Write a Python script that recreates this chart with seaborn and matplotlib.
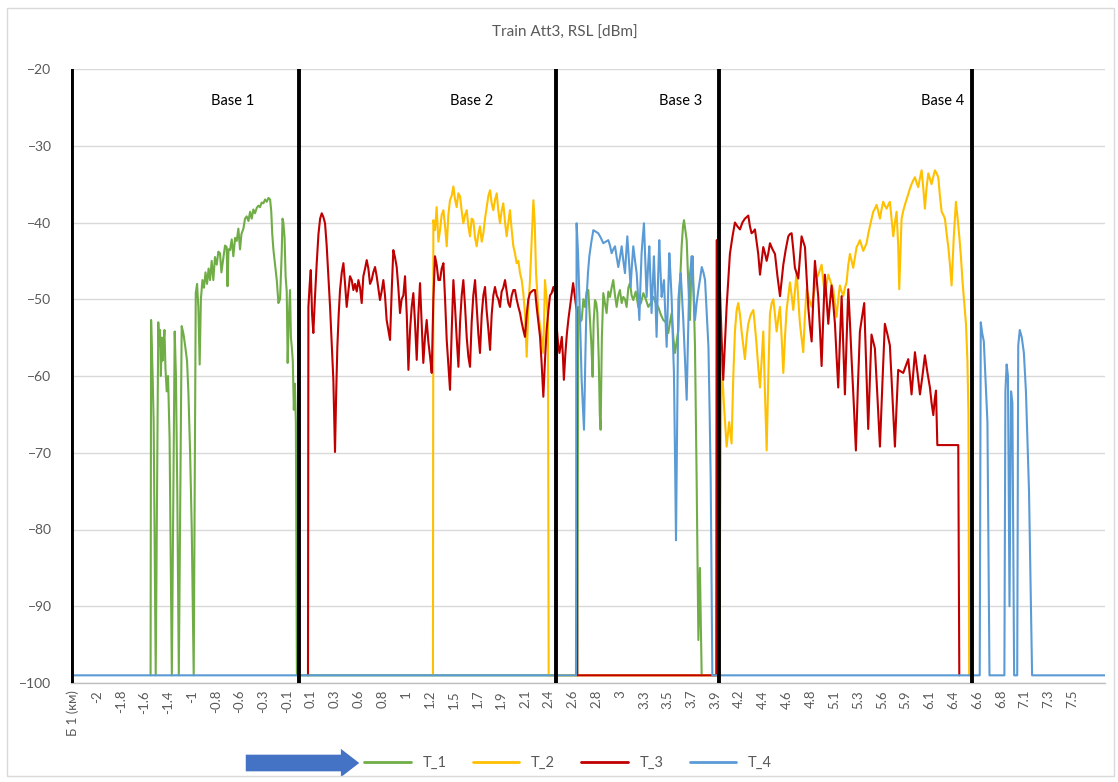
import numpy as np
import pandas as pd
import matplotlib
matplotlib.use("Agg")
import matplotlib.pyplot as plt
from matplotlib.patches import Rectangle, FancyArrowPatch
import seaborn as sns

# x tick labels (category labels of the original sheet)
tick_labels = ["Б 1 (км)", "-2", "-1.8", "-1.6", "-1.4", "-1", "-0.8", "-0.6", "-0.3", "-0.1",
               "0.1", "0.3", "0.6", "0.8", "1", "1.2", "1.5", "1.7", "1.9", "2.1", "2.4",
               "2.6", "2.8", "3", "3.3", "3.5", "3.7", "3.9", "4.2", "4.4", "4.6", "4.8",
               "5.1", "5.3", "5.6", "5.9", "6.1", "6.4", "6.6", "6.8", "7.1", "7.3", "7.5"]

# base station boundaries (km)
base_edges = [-2.24, -0.03, 2.47, 4.06, 6.52]
base_names = ["Base 1", "Base 2", "Base 3", "Base 4"]

# RSL readings (km, dBm), -99 = no signal
t1 = [(-1.475, -99), (-1.470, -52.7), (-1.455, -60), (-1.445, -66), (-1.425, -99),
      (-1.400, -53), (-1.392, -56), (-1.383, -54), (-1.375, -60), (-1.366, -55), (-1.358, -58),
      (-1.350, -56), (-1.340, -54), (-1.330, -59), (-1.318, -62), (-1.305, -60), (-1.290, -68),
      (-1.268, -99), (-1.240, -54.2), (-1.228, -60), (-1.215, -75), (-1.200, -99), (-1.172, -53.5),
      (-1.155, -54.5), (-1.139, -56), (-1.120, -58), (-1.107, -62), (-1.090, -70), (-1.074, -80),
      (-1.055, -99), (-1.035, -49.2), (-1.022, -48), (-1.010, -51), (-0.997, -58.5), (-0.985, -50),
      (-0.970, -47.5), (-0.955, -48.5), (-0.940, -46.5), (-0.925, -48), (-0.910, -46), (-0.896, -47.5),
      (-0.880, -45), (-0.864, -47.5), (-0.848, -44.5), (-0.831, -45.5), (-0.815, -43.8), (-0.799, -44),
      (-0.785, -46.5), (-0.766, -44.6), (-0.750, -43), (-0.734, -43.2), (-0.726, -48.3), (-0.716, -43.5),
      (-0.701, -43.6), (-0.685, -42.2), (-0.669, -44.4), (-0.652, -42), (-0.636, -42.4), (-0.620, -40.8),
      (-0.604, -43.5), (-0.590, -41.5), (-0.571, -40.8), (-0.555, -39.5), (-0.539, -39.2), (-0.522, -39.8),
      (-0.506, -38.6), (-0.490, -39.5), (-0.474, -38.3), (-0.458, -38.8), (-0.441, -38.1), (-0.425, -37.8),
      (-0.409, -38.0), (-0.393, -37.4), (-0.376, -37.5), (-0.360, -37.0), (-0.344, -37.3), (-0.327, -36.8),
      (-0.311, -37.0), (-0.300, -38.5), (-0.290, -41.5), (-0.279, -43.5), (-0.263, -45.5), (-0.246, -47.5),
      (-0.230, -50.5), (-0.214, -50), (-0.198, -44), (-0.190, -39.5), (-0.182, -40), (-0.170, -42),
      (-0.160, -47), (-0.149, -49), (-0.140, -58.3), (-0.130, -53), (-0.117, -48.8), (-0.108, -55),
      (-0.100, -56.2), (-0.090, -58), (-0.080, -64.4), (-0.070, -61), (-0.060, -66), (-0.050, -99),
      (2.681, -99), (2.690, -51), (2.705, -53), (2.723, -52.7), (2.740, -50), (2.755, -51), (2.772, -49),
      (2.788, -48.8), (2.804, -52.7), (2.818, -56), (2.830, -60.1), (2.840, -53), (2.853, -50.1),
      (2.865, -50.5), (2.876, -51.8), (2.890, -58), (2.900, -65), (2.908, -67), (2.920, -55),
      (2.934, -49.2), (2.950, -50.5), (2.966, -51.8), (2.983, -49), (2.999, -49.7), (3.015, -48.5),
      (3.031, -47.5), (3.048, -49.5), (3.064, -51), (3.080, -49.5), (3.096, -48.8), (3.113, -50.5),
      (3.129, -49.7), (3.145, -50), (3.161, -51), (3.178, -48.5), (3.194, -47.9), (3.210, -49.5),
      (3.226, -50.1), (3.250, -49), (3.275, -51), (3.300, -50.5), (3.324, -49.2), (3.348, -50),
      (3.372, -51), (3.396, -50.5), (3.421, -49.7), (3.445, -50.5), (3.469, -51), (3.494, -52),
      (3.518, -52.7), (3.543, -53), (3.567, -54.4), (3.583, -53), (3.600, -51.8), (3.616, -55),
      (3.632, -57), (3.648, -55.5), (3.665, -54), (3.681, -48), (3.697, -43.1), (3.710, -40.5),
      (3.720, -39.7), (3.733, -41), (3.746, -42.3), (3.762, -48), (3.778, -52.7), (3.790, -47),
      (3.804, -44.4), (3.815, -50), (3.827, -56.2), (3.843, -73.5), (3.860, -94.4), (3.875, -85),
      (3.892, -99)]

t2 = [(1.275, -99), (1.279, -39.7), (1.295, -41), (1.311, -38), (1.328, -42.5),
      (1.344, -41), (1.360, -39), (1.377, -38.4), (1.393, -40.5), (1.409, -43.1), (1.425, -39),
      (1.441, -37.1), (1.458, -36.5), (1.474, -35.3), (1.490, -37), (1.506, -38), (1.522, -36.2),
      (1.539, -36.6), (1.555, -38.5), (1.571, -40.1), (1.588, -39), (1.604, -38.4), (1.620, -40.5),
      (1.636, -41.8), (1.652, -39.5), (1.668, -39.7), (1.685, -42), (1.701, -43.1), (1.717, -41.5),
      (1.733, -40.5), (1.750, -42.5), (1.766, -41.4), (1.782, -39.5), (1.798, -38), (1.815, -36.5),
      (1.831, -35.8), (1.847, -37.5), (1.863, -38.4), (1.880, -37), (1.896, -36.2), (1.912, -38.5),
      (1.928, -40.1), (1.944, -38.5), (1.960, -37.5), (1.977, -40), (1.993, -41.8), (2.009, -40),
      (2.025, -38.4), (2.042, -41), (2.058, -43.1), (2.074, -44), (2.090, -45.3), (2.107, -45),
      (2.123, -46.6), (2.139, -47.5), (2.155, -49.2), (2.172, -52), (2.188, -57.5), (2.204, -51),
      (2.220, -47.5), (2.237, -42), (2.253, -37.1), (2.266, -40), (2.279, -46.6), (2.290, -49),
      (2.301, -51.8), (2.318, -53.5), (2.334, -55.3), (2.350, -57), (2.366, -47.5), (2.382, -50),
      (2.395, -52.7), (2.402, -99),
      (4.060, -99), (4.086, -57.8), (4.110, -64), (4.135, -69.2), (4.160, -66), (4.183, -68.8),
      (4.200, -60), (4.216, -54.2), (4.232, -51.5), (4.248, -50.5), (4.265, -52), (4.281, -54.2),
      (4.297, -56), (4.313, -57.8), (4.330, -55), (4.346, -53.2), (4.370, -52), (4.395, -51.4),
      (4.411, -53.5), (4.427, -56), (4.444, -59), (4.460, -61.5), (4.476, -58), (4.492, -54.2),
      (4.508, -62), (4.525, -69.7), (4.541, -60), (4.557, -51.9), (4.574, -50.5), (4.590, -50),
      (4.606, -52), (4.622, -54.2), (4.638, -52.5), (4.655, -51), (4.671, -55), (4.687, -59.6),
      (4.703, -55), (4.719, -51.4), (4.736, -49.5), (4.752, -47.8), (4.768, -49.5), (4.784, -51.4),
      (4.800, -49), (4.817, -46.4), (4.833, -50), (4.849, -53.2), (4.865, -55), (4.881, -56.9),
      (4.898, -52), (4.914, -48.7), (4.938, -50), (4.963, -51), (4.987, -49), (5.011, -47.3),
      (5.036, -46.5), (5.060, -45.5), (5.076, -47.5), (5.092, -49.6), (5.108, -48), (5.125, -46.8),
      (5.149, -47.8), (5.173, -48.7), (5.190, -50.5), (5.206, -52.3), (5.222, -50), (5.238, -48.2),
      (5.255, -49), (5.271, -49.6), (5.287, -48.5), (5.303, -47.8), (5.320, -45.5), (5.336, -44.1),
      (5.352, -45), (5.368, -45.9), (5.385, -44.5), (5.401, -43.2), (5.417, -42.8), (5.433, -42.3),
      (5.450, -43), (5.466, -43.7), (5.482, -43.2), (5.498, -42.7), (5.514, -41.5), (5.530, -40.5),
      (5.547, -39.5), (5.563, -38.6), (5.579, -38.2), (5.595, -37.7), (5.611, -38.5), (5.628, -39.5),
      (5.644, -38.3), (5.660, -37.3), (5.676, -37.8), (5.693, -38.2), (5.709, -37.7), (5.725, -37.3),
      (5.741, -39.5), (5.758, -41.8), (5.774, -40), (5.790, -38.6), (5.806, -43), (5.816, -48.7),
      (5.828, -44), (5.839, -39.5), (5.855, -38.5), (5.871, -37.7), (5.888, -37), (5.904, -36.3),
      (5.920, -35.6), (5.936, -35), (5.953, -34.5), (5.969, -34.1), (5.985, -34.8), (6.001, -35.4),
      (6.018, -34.2), (6.034, -33.2), (6.050, -35.5), (6.066, -38.2), (6.082, -35.5), (6.099, -33.6),
      (6.115, -34.3), (6.131, -35), (6.148, -34), (6.164, -33.2), (6.180, -33.6), (6.196, -34.1),
      (6.212, -36.5), (6.229, -38.6), (6.245, -39), (6.261, -39.5), (6.278, -41.5), (6.294, -43.2),
      (6.310, -45.5), (6.326, -48.2), (6.347, -42), (6.368, -37.3), (6.385, -39.5), (6.401, -41.8),
      (6.417, -44.5), (6.433, -47.8), (6.450, -50.5), (6.466, -53.2), (6.480, -58), (6.490, -65),
      (6.497, -99)]

t3 = [(0.058, -99), (0.062, -51), (0.075, -48), (0.085, -46.2), (0.098, -52),
      (0.110, -54.4), (0.125, -50), (0.143, -45.3), (0.160, -41.5), (0.176, -39.5), (0.192, -38.8),
      (0.208, -39.3), (0.224, -40.1), (0.240, -43), (0.257, -47), (0.273, -51), (0.290, -56),
      (0.305, -60.5), (0.321, -69.9), (0.333, -62), (0.344, -56.2), (0.357, -52), (0.370, -48.8),
      (0.387, -46.5), (0.403, -45.3), (0.419, -48), (0.435, -51), (0.451, -49), (0.467, -47),
      (0.484, -47.5), (0.500, -48.8), (0.516, -48), (0.533, -49), (0.549, -47.5), (0.565, -48.5),
      (0.581, -50.5), (0.597, -47), (0.614, -46), (0.630, -44.9), (0.646, -46), (0.662, -48),
      (0.678, -47.5), (0.694, -46.5), (0.711, -45.8), (0.727, -47), (0.743, -48.5), (0.759, -50.1),
      (0.775, -49), (0.792, -47.5), (0.808, -49.5), (0.824, -52.7), (0.840, -54), (0.857, -55.3),
      (0.873, -49), (0.889, -43.6), (0.905, -44.5), (0.922, -45.8), (0.938, -48.5), (0.954, -51.8),
      (0.970, -50), (0.987, -49.5), (1.003, -47), (1.020, -52), (1.036, -59.2), (1.052, -54),
      (1.068, -51), (1.084, -49.2), (1.100, -53), (1.117, -57.9), (1.133, -52), (1.149, -47.9),
      (1.165, -53), (1.181, -58.3), (1.197, -55), (1.214, -52.7), (1.230, -55.5), (1.247, -57.5),
      (1.263, -59.6), (1.279, -50), (1.295, -44.4), (1.311, -45.5), (1.328, -47.5), (1.344, -47.5),
      (1.360, -46), (1.377, -45.3), (1.393, -50), (1.409, -55.3), (1.425, -58.5), (1.441, -61.8),
      (1.458, -54), (1.474, -47.5), (1.490, -51), (1.506, -55), (1.523, -58.8), (1.539, -53),
      (1.555, -49.5), (1.571, -47.5), (1.588, -51), (1.604, -55), (1.620, -57.5), (1.636, -58.8),
      (1.652, -53), (1.668, -49.5), (1.685, -47.5), (1.701, -51), (1.717, -54.5), (1.733, -57),
      (1.750, -52), (1.766, -49.5), (1.782, -48.4), (1.798, -51.5), (1.815, -54), (1.831, -56.6),
      (1.847, -52), (1.863, -49.5), (1.879, -48.4), (1.896, -49.5), (1.912, -50), (1.928, -51),
      (1.944, -49), (1.960, -48.5), (1.977, -47.5), (1.993, -49), (2.009, -50.5), (2.025, -51),
      (2.042, -49.5), (2.058, -48.8), (2.074, -48.8), (2.090, -50), (2.107, -51), (2.123, -51.8),
      (2.139, -53), (2.155, -54), (2.171, -54.9), (2.188, -52), (2.204, -50), (2.220, -49.2),
      (2.237, -49), (2.253, -48.8), (2.269, -48.8), (2.285, -51), (2.302, -53), (2.318, -54.9),
      (2.334, -58.5), (2.350, -62.7), (2.366, -58), (2.382, -54), (2.399, -51.5), (2.415, -49.5),
      (2.431, -49.2), (2.448, -48.4), (2.464, -49.2), (2.480, -53.6), (2.495, -56), (2.507, -57),
      (2.518, -56), (2.530, -54.9), (2.541, -57.5), (2.550, -60.5), (2.565, -57), (2.580, -54.4),
      (2.595, -52.5), (2.610, -51), (2.625, -49.5), (2.640, -47.9), (2.660, -50), (2.675, -51.5),
      (2.680, -99),
      (4.034, -99), (4.038, -42.3), (4.054, -45.5), (4.070, -48.7), (4.086, -55), (4.102, -60.5),
      (4.118, -56), (4.135, -51), (4.151, -47.5), (4.167, -44.1), (4.190, -42), (4.216, -40),
      (4.240, -40.5), (4.265, -40.9), (4.289, -40), (4.313, -39.5), (4.330, -39.3), (4.346, -39.1),
      (4.362, -40.5), (4.378, -41.4), (4.395, -41.2), (4.411, -40.9), (4.427, -42.5), (4.443, -44.1),
      (4.452, -45.5), (4.460, -46.8), (4.476, -45), (4.492, -43.2), (4.508, -44), (4.525, -45),
      (4.541, -44), (4.557, -42.7), (4.582, -43.5), (4.606, -44.1), (4.630, -47), (4.655, -49.6),
      (4.671, -47.5), (4.687, -45.5), (4.711, -43.5), (4.736, -41.8), (4.752, -41.5), (4.768, -41.4),
      (4.784, -43.5), (4.800, -45.9), (4.817, -46.6), (4.833, -47.3), (4.849, -44.5), (4.865, -41.8),
      (4.881, -42.5), (4.898, -43.2), (4.914, -47), (4.930, -51), (4.946, -53.5), (4.963, -55.5),
      (4.979, -50), (4.995, -45), (5.011, -47.3), (5.027, -49.6), (5.044, -54), (5.060, -58.7),
      (5.076, -52.5), (5.092, -46.8), (5.108, -50), (5.125, -53.2), (5.141, -50.5), (5.157, -48.2),
      (5.173, -50.5), (5.190, -53.2), (5.206, -57.5), (5.222, -61.5), (5.238, -55.5), (5.255, -49.6),
      (5.271, -56), (5.287, -62.4), (5.303, -55.5), (5.320, -48.7), (5.336, -53), (5.352, -57.8),
      (5.373, -63.5), (5.394, -69.7), (5.413, -61.5), (5.433, -54.2), (5.454, -52.3), (5.475, -50.5),
      (5.494, -58.5), (5.514, -66.9), (5.530, -60.5), (5.546, -54.6), (5.563, -55.5), (5.579, -56.4),
      (5.603, -62.5), (5.628, -69.2), (5.652, -61), (5.676, -53.2), (5.700, -54.5), (5.725, -56),
      (5.749, -62.5), (5.774, -69.2), (5.790, -64), (5.806, -59.2), (5.830, -59.4), (5.855, -59.6),
      (5.879, -58.7), (5.904, -57.8), (5.920, -60), (5.936, -62.4), (5.953, -59.5), (5.969, -56.9),
      (5.993, -59.5), (6.018, -62.4), (6.042, -60), (6.066, -57.3), (6.090, -59.5), (6.115, -61.5),
      (6.131, -63.5), (6.148, -65.1), (6.162, -63), (6.174, -61.9), (6.187, -69), (6.391, -69),
      (6.401, -99)]

t4 = [(-2.25, -99), (2.668, -99), (2.674, -40.1), (2.688, -44), (2.701, -49.7), (2.712, -55),
      (2.723, -60.5), (2.735, -64), (2.746, -67), (2.760, -57), (2.772, -49.7), (2.785, -46.5),
      (2.798, -44.4), (2.818, -42.5), (2.837, -41), (2.861, -41.2), (2.885, -41.4), (2.910, -42),
      (2.934, -42.7), (2.958, -42.5), (2.983, -42.3), (2.999, -43), (3.015, -44), (3.031, -43.5),
      (3.048, -43.1), (3.064, -44.5), (3.080, -45.8), (3.097, -44.5), (3.113, -43.1), (3.129, -45),
      (3.145, -46.6), (3.157, -44), (3.168, -41.8), (3.184, -45), (3.200, -48.4), (3.213, -45.5),
      (3.226, -43.1), (3.243, -45), (3.259, -46.6), (3.272, -49.5), (3.285, -52.7), (3.296, -48),
      (3.307, -44), (3.318, -42), (3.330, -40.1), (3.343, -45), (3.356, -49.7), (3.369, -46),
      (3.382, -43.1), (3.393, -47.5), (3.404, -51.8), (3.416, -48), (3.427, -44.4), (3.440, -49.5),
      (3.453, -54.9), (3.466, -48), (3.479, -42.3), (3.490, -46), (3.502, -49.7), (3.514, -48.5),
      (3.525, -47.5), (3.538, -52), (3.551, -56.2), (3.564, -50), (3.577, -44), (3.589, -47),
      (3.600, -50.1), (3.611, -55), (3.622, -59.6), (3.632, -70), (3.642, -81.4), (3.654, -65),
      (3.665, -50.1), (3.677, -48), (3.688, -46.6), (3.700, -49.5), (3.713, -52.7), (3.730, -58),
      (3.746, -63.1), (3.759, -55), (3.772, -47.5), (3.784, -46), (3.795, -44.4), (3.811, -48.5),
      (3.827, -52.7), (3.843, -50.5), (3.860, -48.8), (3.877, -47.3), (3.893, -45.8), (3.909, -46.5),
      (3.925, -47.5), (3.942, -52), (3.958, -56.2), (3.970, -65), (3.980, -73.5), (3.996, -99),
      (6.600, -99), (6.610, -53), (6.625, -54.5), (6.640, -55.5), (6.655, -60), (6.675, -66),
      (6.695, -99), (6.840, -99), (6.850, -62), (6.862, -58.5), (6.875, -60), (6.890, -90),
      (6.905, -62), (6.918, -63.5), (6.935, -99), (6.965, -99), (6.975, -56), (6.990, -54),
      (7.010, -55), (7.030, -57), (7.050, -62), (7.080, -75), (7.110, -99), (7.82, -99)]

series = {"T_1": t1, "T_2": t2, "T_3": t3, "T_4": t4}
colors = {"T_1": "#70AD47", "T_2": "#FFC000", "T_3": "#C00000", "T_4": "#5B9BD5"}

frames = []
for name, pts in series.items():
    d = pd.DataFrame(pts, columns=["km", "dbm"])
    d["series"] = name
    frames.append(d)
df = pd.concat(frames, ignore_index=True)

sns.set_theme(style="white")
plt.rcParams["font.family"] = ["Lato", "DejaVu Sans"]

W, H = 1118, 782
fig = plt.figure(figsize=(W / 100, H / 100), dpi=100)
ax = fig.add_axes([71 / W, 1 - 683 / H, (1105 - 71) / W, (683 - 69) / H])

sns.lineplot(data=df, x="km", y="dbm", hue="series", palette=colors, sort=False,
             estimator=None, linewidth=1.5, ax=ax)

# black base boundaries
for xb in base_edges:
    ax.axvline(xb, color="black", lw=2.8, zorder=5)
label_x = [-0.68, 1.655, 3.69, 6.24]
for name, xl in zip(base_names, label_x):
    ax.text(xl, -24.2, name, ha="center", va="center", fontsize=10.5, color="black")

ax.set_xlim(-2.25, 7.82)
ax.set_ylim(-100, -20)
ax.set_yticks(np.arange(-100, -19, 10))
ax.set_xticks(np.linspace(-2.23, 7.50, len(tick_labels)))
ax.set_xticklabels(tick_labels, rotation=90)
ax.tick_params(axis="y", length=0, pad=14, labelsize=10, labelcolor="#595959")
ax.tick_params(axis="x", length=0, pad=5, labelsize=9.5, labelcolor="#595959")
ax.set_xlabel("")
ax.set_ylabel("")
ax.yaxis.grid(True, color="#D9D9D9", lw=1)
ax.xaxis.grid(False)
for s in ["top", "right", "left"]:
    ax.spines[s].set_visible(False)
ax.spines["bottom"].set_color("#BFBFBF")
ax.spines["bottom"].set_linewidth(1)

fig.text(565 / W, 1 - 33 / H, "Train Att3, RSL [dBm]", ha="center", va="center",
         fontsize=11, color="#595959")

sns.move_legend(ax, "center", bbox_to_anchor=(568 / W, 1 - 763 / H),
                bbox_transform=fig.transFigure, ncol=4, frameon=False, title=None,
                handlelength=3.2, columnspacing=1.8, fontsize=10.5)
leg = ax.get_legend()
for line in leg.get_lines():
    line.set_linewidth(2)
for t in leg.get_texts():
    t.set_color("#595959")

# direction arrow
fig.add_artist(FancyArrowPatch((243 / W, 1 - 763 / H), (362 / W, 1 - 763 / H),
                               transform=fig.transFigure,
                               arrowstyle="simple,tail_width=1.0,head_width=1.7,head_length=1.1",
                               mutation_scale=12, color="#4472C4", lw=0))
fig.add_artist(Rectangle((0.006, 0.008), 0.99, 0.982, transform=fig.transFigure,
                         fill=False, ec="#D9D9D9", lw=1))

fig.savefig("out.png", dpi=100)
